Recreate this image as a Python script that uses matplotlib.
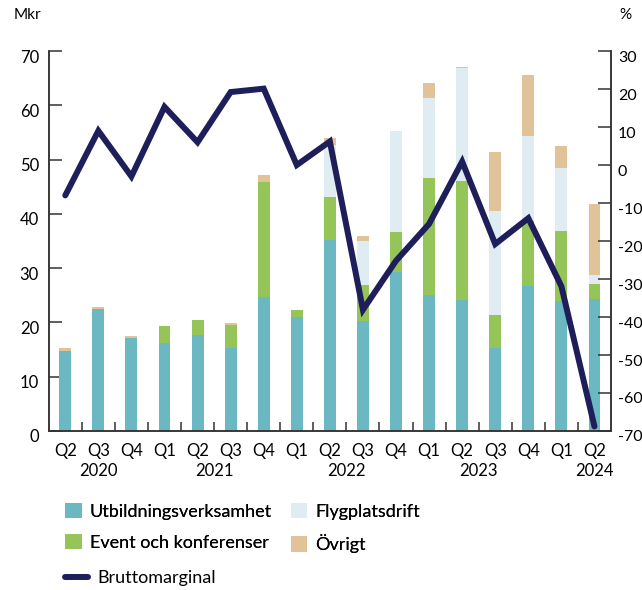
#!/usr/bin/env python3
import matplotlib
import matplotlib.pyplot as plt
import matplotlib.transforms as mtransforms
import numpy as np

matplotlib.use('Agg')
plt.rcParams['font.family'] = ['Lato', 'DejaVu Sans']
plt.rcParams['axes.unicode_minus'] = False

# Kvartal Q2 2020 - Q2 2024
quarters = ['Q2', 'Q3', 'Q4', 'Q1', 'Q2', 'Q3', 'Q4', 'Q1', 'Q2',
            'Q3', 'Q4', 'Q1', 'Q2', 'Q3', 'Q4', 'Q1', 'Q2']
years = ['2020', '2021', '2022', '2023', '2024']
year_pos = [1, 4.5, 8.5, 12.5, 16]

# Intäkter per verksamhet, Mkr
utbildning = [14.7, 22.5, 17.1, 16.2, 17.7, 15.3, 24.7, 21.0, 35.2,
              20.3, 29.3, 25.0, 24.2, 15.3, 26.8, 23.9, 24.3]
event = [0.0, 0.0, 0.0, 3.1, 2.7, 4.2, 21.2, 1.3, 7.9,
         6.6, 7.3, 21.6, 21.8, 6.1, 11.9, 12.9, 2.8]
flygplats = [0.0, 0.0, 0.0, 0.0, 0.0, 0.0, 0.0, 0.0, 9.6,
             8.1, 18.6, 14.7, 20.9, 19.1, 15.6, 11.6, 1.6]
ovrigt = [0.6, 0.4, 0.4, 0.0, 0.0, 0.4, 1.2, 0.0, 1.3,
          0.9, 0.0, 2.8, 0.2, 10.9, 11.3, 4.1, 13.1]

# Bruttomarginal, %
bruttomarginal = [-8.0, 9.0, -3.0, 15.3, 6.0, 19.2, 20.1, 0.0, 6.2,
                  -38.1, -25.2, -15.5, 0.9, -20.8, -14.0, -31.9, -68.8]

C_UTB = '#6bb7c2'
C_EVENT = '#95c459'
C_FLYG = '#dfedf2'
C_OVR = '#e0c399'
C_LINE = '#1e1e5a'
C_AXIS = '#333333'

x = np.arange(len(quarters))
w = 0.36

fig = plt.figure(figsize=(6.42, 5.90), dpi=100)
ax = fig.add_axes([0.0759, 0.2695, 0.8758, 0.644])
ax2 = ax.twinx()

bottom = np.zeros(len(x))
series = [(utbildning, C_UTB, 'Utbildningsverksamhet'),
          (event, C_EVENT, 'Event och konferenser'),
          (flygplats, C_FLYG, 'Flygplatsdrift'),
          (ovrigt, C_OVR, 'Övrigt')]
bars = {}
for vals, col, name in series:
    bars[name] = ax.bar(x, vals, w, bottom=bottom, color=col, label=name, zorder=2)
    bottom += np.array(vals)

line, = ax2.plot(x, bruttomarginal, color=C_LINE, lw=4.3,
                 solid_joinstyle='miter', solid_capstyle='round',
                 label='Bruttomarginal', zorder=3)

ax.set_xlim(-0.5, len(x) - 0.5)
ax.set_ylim(0, 70)
ax2.set_ylim(-70, 30)
ax.set_yticks(np.arange(0, 71, 10))
ax2.set_yticks(np.arange(-70, 31, 10))

ax.set_xticks(x)
ax.set_xticklabels(quarters)
ax.set_xticks(np.arange(0.5, len(x) - 1, 1), minor=True)
ax.tick_params(axis='x', which='major', length=0, pad=9, labelsize=12)
ax.tick_params(axis='x', which='minor', direction='in', length=6.5,
               width=1.1, color=C_AXIS)
ax.tick_params(axis='y', direction='in', length=9.5, width=1.1,
               color=C_AXIS, pad=7, labelsize=12)
ax2.tick_params(axis='y', direction='in', length=9.5, width=1.1,
                color=C_AXIS, pad=5, labelsize=11.5)

# flytta y-etiketterna något nedåt
shift = mtransforms.ScaledTranslation(0, -5 / 100, fig.dpi_scale_trans)
for lab in ax.get_yticklabels() + ax2.get_yticklabels():
    lab.set_transform(lab.get_transform() + shift)

for a in (ax, ax2):
    a.spines['top'].set_visible(False)
    for s in ('left', 'right', 'bottom'):
        a.spines[s].set_color(C_AXIS)
        a.spines[s].set_linewidth(1.1)

for yr, pos in zip(years, year_pos):
    ax.text(pos, -0.105, yr, transform=ax.get_xaxis_transform(),
            ha='center', va='center', fontsize=12)

fig.text(14 / 642, 1 - 15 / 590, 'Mkr', ha='left', va='center', fontsize=11)
fig.text(619 / 642, 1 - 15 / 590, '%', ha='left', va='center', fontsize=11)

handles = [bars['Utbildningsverksamhet'], bars['Event och konferenser'],
           bars['Flygplatsdrift'], bars['Övrigt']]
leg1 = fig.legend(handles=handles, ncol=2, loc='upper left',
                  bbox_to_anchor=(65 / 642, 1 - 503 / 590), frameon=False,
                  fontsize=13, handlelength=0.92, handleheight=0.92,
                  handletextpad=0.45, columnspacing=1.05, labelspacing=0.8,
                  borderpad=0, borderaxespad=0)
fig.add_artist(leg1)
fig.legend(handles=[line], loc='upper left',
           bbox_to_anchor=(65 / 642, 1 - 570 / 590), frameon=False,
           fontsize=13, handlelength=1.28, handletextpad=0.5,
           borderpad=0, borderaxespad=0)

fig.savefig('out.png', dpi=100)
plt.close(fig)
